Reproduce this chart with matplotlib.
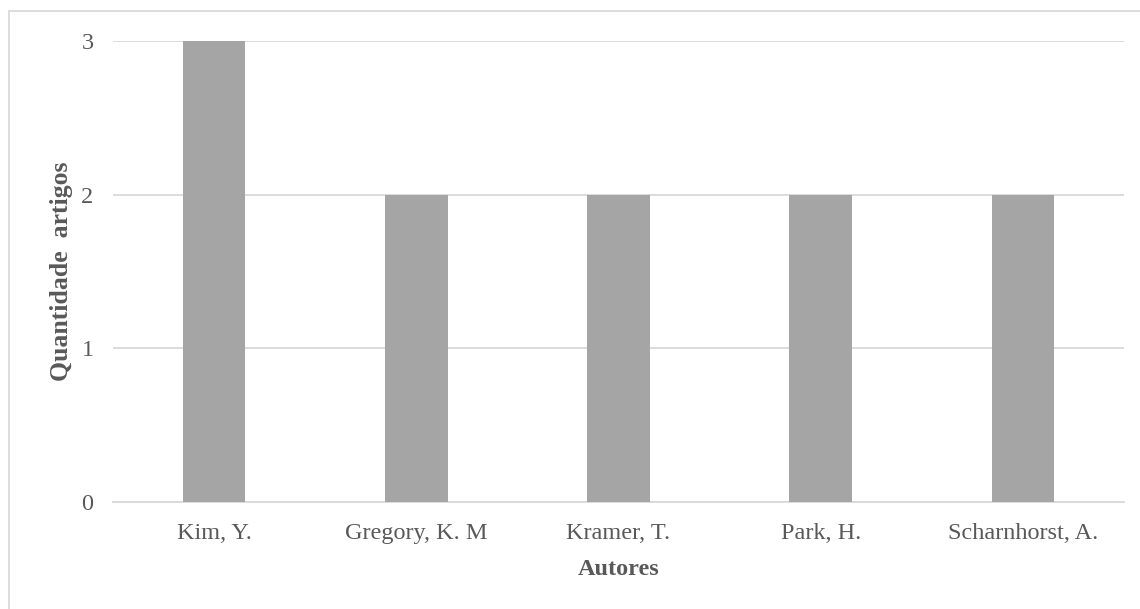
import matplotlib.pyplot as plt
from matplotlib.patches import Rectangle

autores = ["Kim, Y.", "Gregory, K. M", "Kramer, T.", "Park, H.", "Scharnhorst, A."]
quantidade = [3, 2, 2, 2, 2]
yticks = [0, 1, 2, 3]

plt.rcParams['font.family'] = ['Liberation Serif', 'DejaVu Serif']

fig = plt.figure(figsize=(11.4, 6.09), dpi=100)
ax = fig.add_axes([113 / 1140, 1 - 502 / 609, 1011 / 1140, 461 / 609])

x = list(range(len(autores)))
ax.bar(x, quantidade, width=0.31, color='#A5A5A5', zorder=3)

ax.set_xlim(-0.5, len(autores) - 0.5)
ax.set_ylim(0, 3)
ax.set_yticks(yticks)
ax.set_xticks(x)
ax.set_xticklabels(autores)
ax.tick_params(axis='both', length=0, labelsize=17.5, colors='#595959')
ax.tick_params(axis='x', pad=15)
ax.tick_params(axis='y', pad=14)

ax.grid(axis='y', color='#D9D9D9', linewidth=1.3, zorder=0)
for side in ['top', 'right', 'left']:
    ax.spines[side].set_visible(False)
ax.spines['bottom'].set_color('#D9D9D9')
ax.spines['bottom'].set_linewidth(1.3)

ax.set_xlabel("Autores", fontsize=17.5, fontweight='bold', color='#595959', labelpad=11)
ax.set_ylabel("Quantidade  artigos", fontsize=18.5, fontweight='bold', color='#595959', labelpad=6)

# chart frame (extends past the right and bottom edges of the image)
fig.patches.append(Rectangle((9 / 1140, -0.05), 1.2, 1 - 11 / 609 + 0.05,
                             transform=fig.transFigure, fill=False,
                             edgecolor='#D9D9D9', linewidth=1.3))

fig.savefig("out.png", dpi=100)
